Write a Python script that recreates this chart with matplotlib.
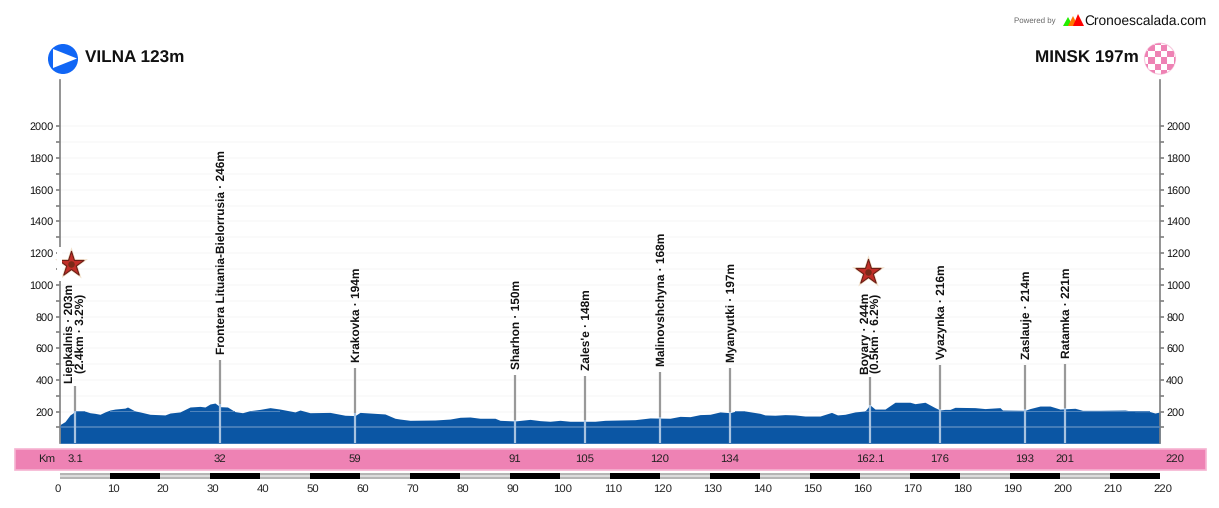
import matplotlib
matplotlib.use("Agg")
import matplotlib.pyplot as plt
from matplotlib.patches import Circle, Polygon, Rectangle

plt.rcParams['font.family'] = ['Liberation Sans', 'DejaVu Sans']
plt.rcParams['text.hinting'] = 'none'

# profile
km = [0, 1, 2, 3, 5, 6, 7, 8, 9, 10, 11, 13, 13.5, 15, 16, 18, 21, 22, 24, 26, 28, 29, 30, 31, 32, 33.5,
      35, 36.5, 38, 40, 42, 44, 47, 48, 50, 54, 57, 59, 60, 62, 65, 67, 68, 70, 75, 78, 80, 82, 84, 87,
      88, 91, 94, 96, 98, 100, 102, 107, 109, 115, 118, 122, 124, 126, 128, 130, 132, 134, 135, 137,
      140, 141, 143, 145, 147, 149, 152, 154.3, 155.5, 157, 159, 161, 162, 163, 165, 167, 170, 171,
      173, 175, 176, 177, 178, 179, 183, 185, 188, 188.5, 193, 194, 196, 198, 200, 203, 204.5, 208,
      213, 215, 218, 219, 220]
elev = [118, 137, 179, 200, 203, 193, 189, 183, 198, 210, 216, 222, 229, 204, 198, 183, 179, 191, 198,
        229, 233, 229, 248, 254, 231, 229, 200, 193, 206, 214, 225, 216, 198, 210, 193, 195, 177, 175,
        195, 191, 185, 158, 153, 145, 147, 153, 164, 166, 158, 158, 145, 141, 151, 143, 139, 145, 139,
        139, 145, 149, 160, 158, 170, 168, 181, 183, 198, 193, 202, 204, 189, 179, 177, 181, 179, 172,
        172, 195, 179, 183, 198, 204, 242, 216, 216, 259, 259, 250, 259, 225, 210, 214, 214, 227, 225,
        219, 225, 210, 208, 219, 235, 235, 216, 221, 208, 208, 210, 200, 200, 191, 198]

# passes along the route
pass_km = [3.1, 32, 59, 91, 105, 120, 134, 162.1, 176, 193, 201]
pass_x = [3, 32, 59, 91, 105, 120, 134, 162, 176, 193, 201]
pass_elev = [203, 246, 194, 150, 148, 168, 197, 244, 216, 214, 221]
pass_names = ["Liepkalnis · 203m\n(2.4km · 3.2%)", "Frontera Lituania-Bielorrusia · 246m", "Krakovka · 194m",
              "Sharhon · 150m", "Zales'e · 148m", "Malinovshchyna · 168m", "Myanyutki · 197m",
              "Boyary · 244m\n(0.5km · 6.2%)", "Vyazynka · 216m", "Zaslauje · 214m", "Ratamka · 221m"]
pass_top = [362, 525, 475, 431, 425, 450, 475, 418, 494, 494, 500]

# categorised climbs get a star
star_x = [2.2, 161.5]
star_y = [1131, 1080]

y_major = list(range(200, 2001, 200))
y_minor = list(range(100, 2001, 200))
scale_ticks = list(range(0, 221, 10))

W, H = 1219, 508
fig = plt.figure(figsize=(W / 100, H / 100), dpi=100, facecolor='white')

# overlay in pixel coordinates for band, icons and logo
over = fig.add_axes([0, 0, 1, 1], zorder=0)
over.set_xlim(0, W)
over.set_ylim(H, 0)
over.axis('off')

ax = fig.add_axes([60 / W, (H - 443.3) / H, 1100 / W, 363.3 / H], zorder=2)
ax.patch.set_alpha(0)
ax.set_xlim(0, 220)
ax.set_ylim(0, 363.3 / 0.1585)

for s in ['top', 'bottom']:
    ax.spines[s].set_visible(False)
for s in ['left', 'right']:
    ax.spines[s].set_color('#808080')
    ax.spines[s].set_linewidth(1.2)

ax.set_xticks([])
ax.set_yticks(y_major)
ax.set_yticks(y_minor, minor=True)
ax.tick_params(axis='y', which='both', left=True, right=True, labelleft=True, labelright=True,
               length=3, width=1.2, color='#808080', labelsize=7.8, pad=1.5, labelcolor='#111111')

# faint lines above the profile
for v in y_major + y_minor:
    ax.axhline(v, color='#fafafa', lw=1.2, zorder=1)

ax.fill_between(km, 0, elev, color='#0b56a4', lw=0, zorder=2)
# lighter grid over the profile
ax.plot([0, 220], [100, 100], color='#4f84bd', lw=1.2, zorder=3)
ax.fill_between(km, 195, 201, where=[e >= 200 for e in elev], color='#4f84bd', lw=0, zorder=3)

for k, x, name, top, e in zip(pass_km, pass_x, pass_names, pass_top, pass_elev):
    ax.plot([x, x], [e, top], color='#999999', lw=1.6, zorder=3, solid_capstyle='butt')
    ax.plot([x, x], [0, e], color='#a8c3e0', lw=1.6, zorder=4, solid_capstyle='butt')
    off = (1, 3) if '\n' in name else (2, 6)
    ax.annotate(name, (x, top), xytext=off, textcoords='offset pixels', rotation=90, ha='center', va='bottom',
                fontsize=8.6, fontweight='bold', color='#111111', linespacing=1.0, multialignment='center', zorder=5)
    # km label in the pink band
    ax.annotate(str(k), (x, 0), xytext=(0, -16), textcoords='offset pixels', ha='center', va='center',
                fontsize=8.2, color='#222222', annotation_clip=False, zorder=6)
ax.annotate("220", (220, 0), xytext=(15, -16), textcoords='offset pixels', ha='center', va='center',
            fontsize=8.2, color='#222222', annotation_clip=False, zorder=6)

# stars, the axis is cut behind the first one
fig.add_artist(Rectangle((57 / W, 1 - 281 / H), 5 / W, 34 / H, transform=fig.transFigure, color='white', lw=0, zorder=4))
for sx, sy in zip(star_x, star_y):
    ax.scatter([sx], [sy], marker='*', s=620, color='#e8c9a0', alpha=0.55, lw=0, zorder=6, clip_on=False)
    ax.scatter([sx], [sy], marker='*', s=360, color='#c22f28', edgecolor='#6b1d15', lw=0.8, zorder=7, clip_on=False)
    ax.scatter([sx], [sy], marker='o', s=22, color='#7a2a18', lw=0, zorder=8, clip_on=False)

# pink km band
over.add_patch(Rectangle((14.5, 448.5), 1191, 21.5, facecolor='#ee82b4', edgecolor='#f6b4d2', lw=1.2))
over.text(47, 459.5, "Km", ha='center', va='center', fontsize=8.2, color='#222222')

# distance scale
sc = fig.add_axes([60 / W, (H - 479) / H, 1100 / W, 6 / H], zorder=1)
sc.set_xlim(0, 220)
sc.set_ylim(0, 1)
sc.set_yticks([])
sc.set_xticks([])
for s in sc.spines.values():
    s.set_visible(False)
for a, b in zip(scale_ticks[:-1], scale_ticks[1:]):
    black = (a // 10) % 2 == 1
    sc.bar(a, 1, width=b - a, align='edge', color='black' if black else '#b5b5b5', lw=0)
    if not black:
        sc.bar(a, 0.34, bottom=0.33, width=b - a, align='edge', color='#dcdcdc', lw=0)
for t in scale_ticks:
    off = -2 if t == 0 else 3
    sc.annotate(str(t), (t, 0), xytext=(off, -10), textcoords='offset pixels', ha='center', va='center',
                fontsize=8.2, color='#222222', annotation_clip=False)

# start and finish
over.add_patch(Circle((63, 59), 15, color='#1166f5', lw=0))
over.add_patch(Polygon([(53, 49), (77, 58.5), (53, 68)], color='white', lw=0))
over.text(85, 58.5, "VILNA 123m", ha='left', va='center', fontsize=12.3, fontweight='bold', color='#111111')
over.text(1139, 58.5, "MINSK 197m", ha='right', va='center', fontsize=12.3, fontweight='bold', color='#111111')

clip = Circle((1160, 58.7), 15.5, transform=over.transData, fc='none', ec='#f8c8de', lw=0.8)
over.add_patch(clip)
for i in range(6):
    for j in range(6):
        if (i + j) % 2 == 0:
            r = Rectangle((1142 + i * 6.3, 38.4 + j * 6.3), 6.3, 6.3, color='#ee82b4', lw=0)
            over.add_patch(r)
            r.set_clip_path(clip)

# logo
over.text(1014, 21, "Powered by", ha='left', va='center', fontsize=5.7, color='#666666')
over.add_patch(Polygon([(1063, 26), (1068, 17), (1073, 26)], color='#22ee00', lw=0))
over.add_patch(Polygon([(1068, 26), (1073, 16), (1078, 26)], color='#ff7700', lw=0))
over.add_patch(Polygon([(1073, 26), (1078, 14), (1084, 26)], color='#ff0000', lw=0))
over.text(1084, 21, "Cronoescalada.com", ha='left', va='center', fontsize=9.9, color='#111111')

fig.savefig('out.png', dpi=100)
